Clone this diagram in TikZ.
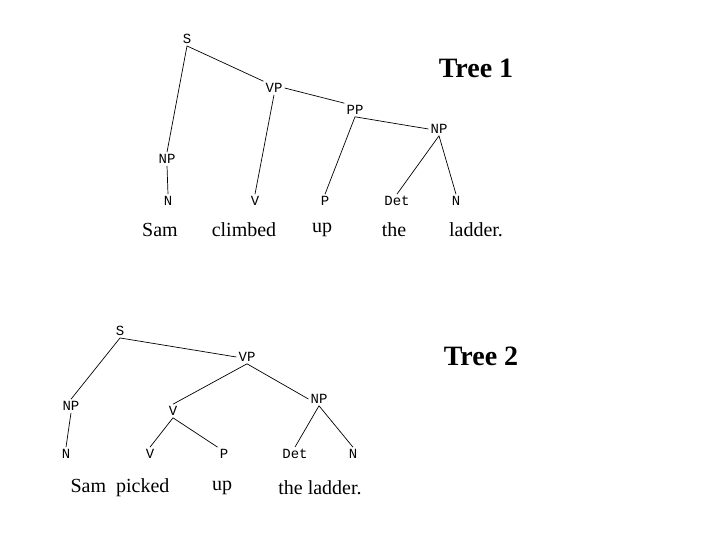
\documentclass[tikz,border=0pt]{standalone}
\usepackage{fontspec}
\setmainfont{Liberation Serif}
\newfontfamily\monof{Liberation Mono}
\begin{document}
\begin{tikzpicture}[x=1pt,y=-1pt,
  lab/.style={font=\monof\fontsize{14}{14}\selectfont,inner sep=2pt},
  wrd/.style={font=\fontsize{20}{20}\selectfont,inner sep=1pt},
  ttl/.style={font=\bfseries\fontsize{28}{28}\selectfont,inner sep=0pt},
  ln/.style={line width=0.7pt}]
\useasboundingbox (0,0) rectangle (720,540);
% Tree 1
\node[lab] (s1) at (187,39) {S};
\node[lab] (vp1) at (274,88) {VP};
\node[lab] (pp1) at (355,110) {PP};
\node[lab] (np1b) at (439,129) {NP};
\node[lab] (np1a) at (167,159) {NP};
\node[lab] (n1a) at (168,201) {N};
\node[lab] (v1) at (255,201) {V};
\node[lab] (p1) at (325,201) {P};
\node[lab] (det1) at (397,201) {Det};
\node[lab] (n1b) at (456,201) {N};
\node[wrd] (w1) at (160,230) {Sam};
\node[wrd] (w2) at (244,230) {climbed};
\node[wrd] (w3) at (322,230) {up};
\node[wrd] (w4) at (394,230) {the};
\node[wrd] (w5) at (476,230) {ladder.};
\node[ttl] (t1) at (476,68) {Tree 1};
\draw[ln] (s1.south) -- (vp1.north west);
\draw[ln] (s1.south) -- (np1a.north);
\draw[ln] (vp1.south) -- (v1.north);
\draw[ln] (vp1.east) -- (pp1.north west);
\draw[ln] (pp1.south) -- (p1.north);
\draw[ln] (pp1.south) -- (np1b.west);
\draw[ln] (np1b.south) -- (det1.north);
\draw[ln] (np1b.south) -- (n1b.north);
\draw[ln] (np1a.south) -- (n1a.north);
% Tree 2
\node[lab] (s2) at (120,331) {S};
\node[lab] (vp2) at (247,357) {VP};
\node[lab] (np2a) at (71,406) {NP};
\node[lab] (v2a) at (173,411) {V};
\node[lab] (np2b) at (319,399) {NP};
\node[lab] (n2a) at (66,454) {N};
\node[lab] (v2b) at (150,454) {V};
\node[lab] (p2) at (224,454) {P};
\node[lab] (det2) at (295,454) {Det};
\node[lab] (n2b) at (353,454) {N};
\node[wrd] (x1) at (120,488) {Sam\ \ picked};
\node[wrd] (x2) at (222,488) {up};
\node[wrd] (x3) at (320,488) {the ladder.};
\node[ttl] (t2) at (481,356) {Tree 2};
\draw[ln] (s2.south) -- (vp2.west);
\draw[ln] (s2.south) -- (np2a.north);
\draw[ln] (vp2.south) -- (v2a.north);
\draw[ln] (vp2.south) -- (np2b.west);
\draw[ln] (v2a.south) -- (v2b.north);
\draw[ln] (v2a.south) -- (p2.north west);
\draw[ln] (np2b.south) -- (det2.north);
\draw[ln] (np2b.south) -- (n2b.north);
\draw[ln] (np2a.south) -- (n2a.north);
\end{tikzpicture}
\end{document}
